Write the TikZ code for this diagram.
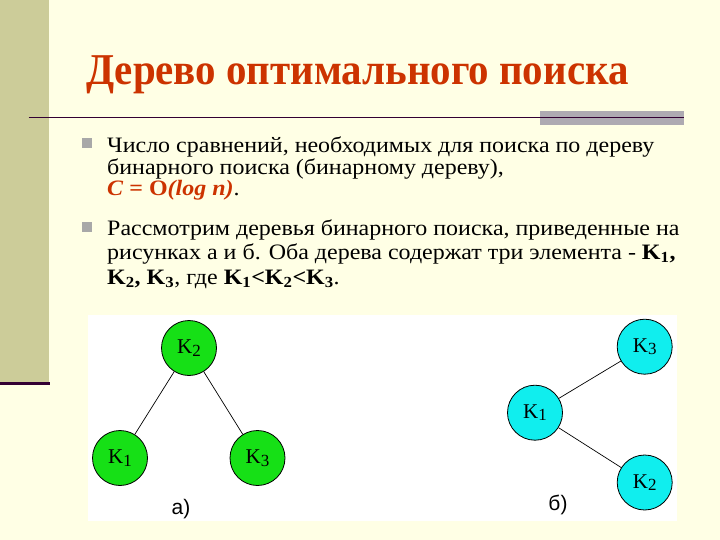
\documentclass[tikz,border=0pt]{standalone}
\usepackage{fontspec}
\setmainfont{Liberation Serif}
\newfontfamily\bodyfont[FakeStretch=1.09]{Liberation Serif}
\newfontfamily\titlefont[FakeStretch=0.93]{Liberation Serif}
\newfontfamily\capfont{Liberation Sans}
\definecolor{Slidebg}{HTML}{FFFFE5}
\definecolor{Barcol}{HTML}{CCCC99}
\definecolor{Rulecol}{HTML}{330033}
\definecolor{Blockcol}{HTML}{AEAAB2}
\definecolor{Bulletcol}{HTML}{A8A8A8}
\definecolor{Titlecol}{HTML}{CC3300}
\definecolor{Greencol}{HTML}{16E016}
\definecolor{Cyancol}{HTML}{10EEEE}
\tikzset{
    textline/.style={inner sep=0pt, anchor=base west, font=\bodyfont\fontsize{22}{26}\selectfont},
    keynode/.style={circle, draw=black, line width=0.8pt, minimum size=55pt, inner sep=0pt,
        font=\fontsize{21}{21}\selectfont},
    treelabel/.style={inner sep=0pt, font=\capfont\fontsize{21}{21}\selectfont},
    edge/.style={draw=black, line width=0.7pt}
}
\newcommand{\keylab}[1]{K\raisebox{-2.5pt}{\fontsize{17}{17}\selectfont #1}}

\begin{document}
\begin{tikzpicture}[x=1pt, y=-1pt]
    \useasboundingbox (0,0) rectangle (720,540);
    % Slide background and left bar
    \fill[Slidebg] (0,0) rectangle (720,540);
    \fill[Barcol] (0,0) rectangle (48.5,382);
    \draw[Rulecol, line width=3pt] (0,383.5) -- (49.5,383.5);

    % Title and rule under it
    \node[inner sep=0pt, anchor=base west, Titlecol, font=\titlefont\fontsize{44}{50}\selectfont\bfseries]
        (title) at (86,85) {Дерево оптимального поиска};
    \fill[Blockcol] (540,111.5) rectangle (684,125.5);
    \draw[Rulecol, line width=1.6pt] (28.5,117.5) -- (684,117.5);

    % Bullets
    \fill[Bulletcol] (82,138.5) rectangle (92,148.5);
    \fill[Bulletcol] (82,222) rectangle (92,232);

    % First item
    \node[textline] (ta) at (107,152.7) {Число сравнений, необходимых для поиска по дереву};
    \node[textline] (tb) at (107,174.5) {бинарного поиска (бинарному дереву),};
    \node[textline] (tc) at (107,196) {\textcolor{Titlecol}{\textbf{\textit{C}} \textbf{= O}\textbf{\textit{(log n)}}}.};

    % Second item
    \node[textline] (td) at (107,236) {Рассмотрим деревья бинарного поиска, приведенные на};
    \node[textline] (te) at (107,259) {рисунках а и б. Оба дерева содержат три элемента - \textbf{K\textsubscript{1},}};
    \node[textline] (tf) at (107,284) {\textbf{K\textsubscript{2}, K\textsubscript{3}}, где \textbf{K\textsubscript{1}<K\textsubscript{2}<K\textsubscript{3}}.};

    % Picture area
    \fill[white] (87.5,315) rectangle (677,520.5);

    % Tree a
    \node[keynode, fill=Greencol] (a2) at (189,348) {\keylab{2}};
    \node[keynode, fill=Greencol] (a1) at (120,458) {\keylab{1}};
    \node[keynode, fill=Greencol] (a3) at (257.5,458) {\keylab{3}};
    \draw[edge] (a2) -- (a1);
    \draw[edge] (a2) -- (a3);
    \node[treelabel] (capa) at (181,509) {а)};

    % Tree b
    \node[keynode, fill=Cyancol] (b1) at (535,412.7) {\keylab{1}};
    \node[keynode, fill=Cyancol] (b3) at (644.7,346.7) {\keylab{3}};
    \node[keynode, fill=Cyancol] (b2) at (644.7,482.5) {\keylab{2}};
    \draw[edge] (b1) -- (b3);
    \draw[edge] (b1) -- (b2);
    \node[treelabel] (capb) at (558,505) {б)};
\end{tikzpicture}
\end{document}
